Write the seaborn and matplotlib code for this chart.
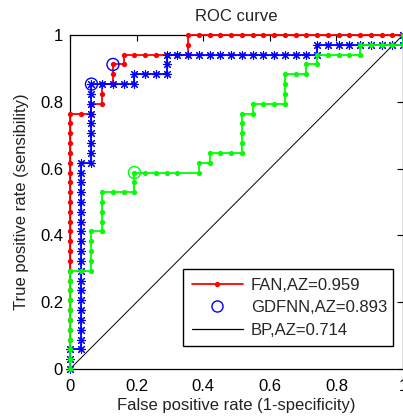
import matplotlib
matplotlib.use("Agg")
import matplotlib.pyplot as plt
import seaborn as sns
from matplotlib.lines import Line2D

# Conteos de falsos positivos / verdaderos positivos
N_NEG = 31
N_POS = 34

fan_fp = [0, 0, 0, 0, 0, 0, 0, 0, 0, 0, 0, 0, 0, 0, 0, 0, 0, 0, 0, 0, 0, 0, 0, 0, 0, 0, 0,
          1, 2, 2, 3, 3, 3, 4, 4, 4, 5, 5, 6, 7, 8, 9, 10, 11, 11, 11,
          12, 13, 14, 15, 16, 17, 18, 19, 20, 21, 22, 23, 24, 25, 26, 27, 28, 29, 30, 31]
fan_tp = [0, 1, 2, 3, 4, 5, 6, 7, 8, 9, 10, 11, 12, 13, 14, 15, 16, 17, 18, 19, 20, 21, 22, 23, 24, 25, 26,
          26, 26, 27, 27, 28, 29, 29, 30, 31, 31, 32, 32, 32, 32, 32, 32, 32, 33, 34,
          34, 34, 34, 34, 34, 34, 34, 34, 34, 34, 34, 34, 34, 34, 34, 34, 34, 34, 34, 34]

gdfnn_fp = [0, 0, 0, 1, 1, 1, 1, 1, 1, 1, 1, 1, 1, 1, 1, 1, 1, 1, 1, 1, 1, 1, 1,
            2, 2, 2, 2, 2, 2, 2, 2, 2, 3, 4, 5, 6, 6, 7, 8, 9, 9, 9,
            10, 11, 12, 13, 14, 15, 16, 17, 18, 19, 20, 21, 22, 23, 23,
            24, 25, 26, 27, 28, 29, 30, 31, 31]
gdfnn_tp = [0, 1, 2, 2, 3, 4, 5, 6, 7, 8, 9, 10, 11, 12, 13, 14, 15, 16, 17, 18, 19, 20, 21,
            21, 22, 23, 24, 25, 26, 27, 28, 29, 29, 29, 29, 29, 30, 30, 30, 30, 31, 32,
            32, 32, 32, 32, 32, 32, 32, 32, 32, 32, 32, 32, 32, 32, 33,
            33, 33, 33, 33, 33, 33, 33, 33, 34]

bp_fp = [0, 0, 0, 0, 0, 0, 0, 0, 0, 0, 0, 1, 2, 2, 2, 2, 2, 3, 3, 3, 3, 3, 4, 5, 6, 6, 6,
         7, 8, 9, 10, 12, 12, 13, 13, 14, 15, 16, 16, 16, 16, 16, 17, 17, 18, 19, 20, 20, 20, 20,
         21, 22, 22, 23, 23, 24, 25, 26, 27, 27, 28, 29, 30, 31, 31]
bp_tp = [0, 1, 2, 3, 4, 5, 6, 7, 8, 9, 10, 10, 10, 11, 12, 13, 14, 14, 15, 16, 17, 18, 18, 18, 18, 19, 20,
         20, 20, 20, 20, 20, 21, 21, 22, 22, 22, 22, 23, 24, 25, 26, 26, 27, 27, 27, 27, 28, 29, 30,
         30, 30, 31, 31, 32, 32, 32, 32, 32, 33, 33, 33, 33, 33, 34]

# puntos de corte marcados con circulo (fp, tp)
corte_fan = (4, 31)
corte_gdfnn = (2, 29)
corte_bp = (6, 20)

etiquetas = ["FAN,AZ=0.959", "GDFNN,AZ=0.893", "BP,AZ=0.714"]
ticks = [0, 0.2, 0.4, 0.6, 0.8, 1]
ticks_txt = ["0", "0.2", "0.4", "0.6", "0.8", "1"]


def a_tasas(fp, tp):
    """Convierte conteos en tasas (1-especificidad, sensibilidad)."""
    return [v / N_NEG for v in fp], [v / N_POS for v in tp]


sns.set_style("white")
plt.rcParams["font.family"] = ["Liberation Sans", "DejaVu Sans"]
plt.rcParams["font.size"] = 12

fig = plt.figure(figsize=(4.03, 4.19), dpi=100)
ax = fig.add_axes([70 / 403, 50 / 419, 333 / 403, 334 / 419])

# diagonal de referencia
sns.lineplot(x=[0, 1], y=[0, 1], color="black", linewidth=0.7, ax=ax)

x, y = a_tasas(fan_fp, fan_tp)
sns.lineplot(x=x, y=y, sort=False, estimator=None, color="#ff0000", linewidth=1.3,
             marker="o", markersize=3.8, markeredgewidth=0, ax=ax, zorder=3, clip_on=False)

x, y = a_tasas(gdfnn_fp, gdfnn_tp)
sns.lineplot(x=x, y=y, sort=False, estimator=None, color="#0000ff", linewidth=1.3,
             marker=(8, 2, 0), markersize=6.2, markeredgewidth=0.8, markeredgecolor="#0000ff",
             ax=ax, zorder=3, clip_on=False)

x, y = a_tasas(bp_fp, bp_tp)
sns.lineplot(x=x, y=y, sort=False, estimator=None, color="#00ff00", linewidth=1.3,
             marker="o", markersize=3.8, markeredgewidth=0, ax=ax, zorder=3, clip_on=False)

# circulos en los puntos de corte
for (cfp, ctp), col in [(corte_fan, "#0000ff"), (corte_gdfnn, "#0000ff"), (corte_bp, "#00ff00")]:
    cx, cy = a_tasas([cfp], [ctp])
    sns.scatterplot(x=cx, y=cy, s=75, facecolor="none", edgecolor=col, linewidth=1.0,
                    ax=ax, zorder=5)

ax.set_xlim(0, 1)
ax.set_ylim(0, 1)
ax.set_xticks(ticks)
ax.set_xticklabels(ticks_txt)
ax.set_yticks(ticks)
ax.set_yticklabels(ticks_txt)
ax.tick_params(direction="in", length=4, width=0.8, top=True, right=True,
               labelsize=12, colors="black", pad=5)
ax.tick_params(axis="x", pad=7)
for s in ax.spines.values():
    s.set_color("black")
    s.set_linewidth(0.9)
    s.set_visible(True)

ax.set_title("ROC curve", fontsize=12, pad=10, color="#222222")
ax.set_xlabel("False positive rate (1-specificity)", fontsize=12, labelpad=3, color="#222222")
ax.set_ylabel("True positive rate (sensibility)", fontsize=12, labelpad=8, color="#222222")

handles = [
    Line2D([], [], color="#ff0000", linewidth=1.3, marker="o", markersize=3.8, markeredgewidth=0),
    Line2D([], [], color="#0000ff", linestyle="none", marker="o", markersize=8,
           markerfacecolor="none", markeredgewidth=1.0),
    Line2D([], [], color="black", linewidth=0.9),
]
leg = ax.legend(handles, etiquetas, loc="lower left", bbox_to_anchor=(0.34, 0.069, 0.631, 0.235),
                mode="expand", fancybox=False, framealpha=1, edgecolor="black",
                handlelength=3.1, handletextpad=0.45, labelspacing=0.45, borderpad=0.5,
                fontsize=12, borderaxespad=0)
leg.get_frame().set_linewidth(1.0)
leg.set_zorder(10)

fig.savefig("out.png", dpi=100)
